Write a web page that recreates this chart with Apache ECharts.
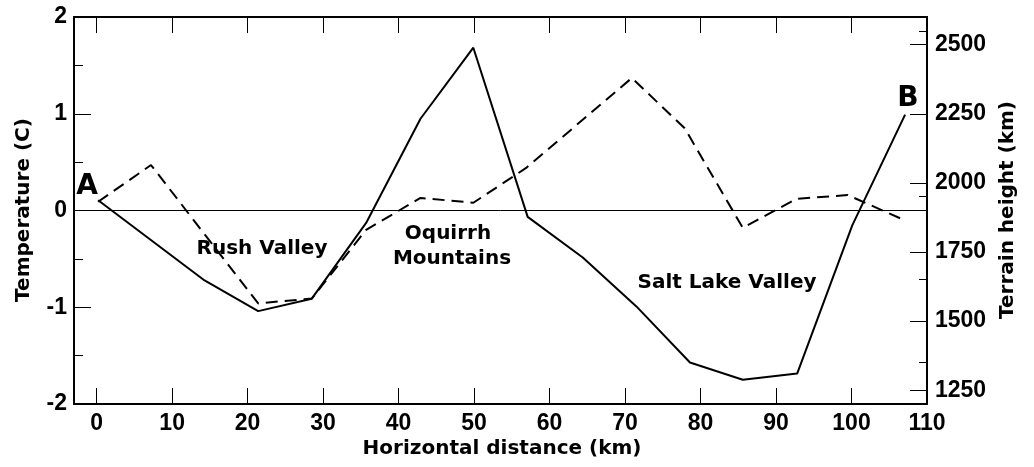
<!DOCTYPE html>
<html>
<head>
<meta charset="utf-8">
<script src="https://cdn.jsdelivr.net/npm/echarts@6/dist/echarts.min.js"></script>
<style>
  html, body { margin: 0; padding: 0; background: #fff; }
  #chart { width: 1034px; height: 467px; }
</style>
</head>
<body>
<div id="chart"></div>
<script>
// terrain profile (solid, right axis)
var terrainKm = [0.2, 14.3, 21.4, 28.5, 35.7, 42.9, 49.9, 57.1, 64.4, 71.5, 78.6, 85.6, 92.8, 100.1, 107.1];
var terrainM  = [1937, 1647, 1536, 1581, 1855, 2232, 2489, 1877, 1730, 1553, 1350, 1288, 1310, 1846, 2247];

// temperature anomaly (dashed, left axis)
var tempKm = [0.2, 7.2, 21.4, 28.5, 35.7, 42.9, 49.9, 56.9, 70.9, 77.9, 85.6, 92.7, 99.5, 107.0];
var tempC  = [0.09, 0.47, -0.96, -0.91, -0.2, 0.13, 0.08, 0.44, 1.37, 0.85, -0.18, 0.12, 0.16, -0.1];

// ticks
var xTicks = [0, 10, 20, 30, 40, 50, 60, 70, 80, 90, 100, 110];
var heightTicks = [1250, 1500, 1750, 2000, 2250, 2500];

var pairs = (xs, ys) => xs.map((x, i) => [x, ys[i]]);

var tickFont = () => ({ fontFamily: 'Liberation Sans, Arial', fontWeight: 'bold', fontSize: 23, color: '#000' });
var frame = () => ({ show: true, onZero: false, lineStyle: { color: '#000', width: 2 } });
var tick = (len, vals) => {
    var t = { show: true, inside: true, length: len, lineStyle: { color: '#000', width: 1 } };
    if (vals) t.customValues = vals;
    return t;
};
var minor = (len) => ({ show: true, splitNumber: 2, length: len, lineStyle: { color: '#000', width: 1 } });
var lbl = (txt, x, y, size, rot) => ({
    type: 'text', x: x, y: y, z: 10, rotation: rot || 0,
    style: { text: txt, font: 'bold ' + (size || 20) + 'px "DejaVu Sans"', fill: '#000', align: 'center', verticalAlign: 'middle' }
});

var chart = echarts.init(document.getElementById('chart'));
chart.setOption({
    animation: false,
    grid: { left: 74, right: 107, top: 17, bottom: 63 },
    xAxis: [{
        type: 'value', min: -3, max: 110, position: 'bottom',
        axisLine: frame(),
        axisTick: tick(16, xTicks),
        axisLabel: Object.assign({ margin: 8, customValues: xTicks }, tickFont()),
        splitLine: { show: false }
    }, {
        type: 'value', min: -3, max: 110, position: 'top',
        axisLine: frame(),
        axisTick: tick(16, xTicks),
        axisLabel: { show: false },
        splitLine: { show: false }
    }],
    yAxis: [{
        type: 'value', min: -2, max: 2, interval: 1, position: 'left',
        axisLine: frame(),
        axisTick: tick(17),
        minorTick: minor(9),
        axisLabel: Object.assign({ margin: 7 }, tickFont()),
        splitLine: { show: false }
    }, {
        type: 'value', min: 1200, max: 2600, position: 'right',
        axisLine: frame(),
        axisTick: tick(17, heightTicks),
        minorTick: minor(8),
        axisLabel: Object.assign({ margin: 8, customValues: heightTicks, formatter: v => String(v) }, tickFont()),
        splitLine: { show: false }
    }],
    series: [{
        name: 'Temperature', type: 'line', xAxisIndex: 0, yAxisIndex: 0,
        data: pairs(tempKm, tempC),
        symbol: 'none',
        lineStyle: { color: '#000', width: 2, type: [12, 7] },
        markLine: {
            silent: true, symbol: ['none', 'none'],
            label: { show: false },
            lineStyle: { color: '#000', width: 1, type: 'solid' },
            data: [{ yAxis: 0 }]
        }
    }, {
        name: 'Terrain', type: 'line', xAxisIndex: 0, yAxisIndex: 1,
        data: pairs(terrainKm, terrainM),
        symbol: 'none',
        lineStyle: { color: '#000', width: 2 }
    }],
    graphic: [
        lbl('Horizontal distance (km)', 502, 449),
        lbl('Temperature (C)', 24, 210, 20, Math.PI / 2),
        lbl('Terrain height (km)', 1008, 210, 20, Math.PI / 2),
        lbl('A', 87, 187, 28),
        lbl('B', 908, 99, 28),
        lbl('Rush Valley', 262, 249),
        lbl('Oquirrh', 448, 234),
        lbl('Mountains', 452, 259),
        lbl('Salt Lake Valley', 727, 283)
    ]
});
</script>
</body>
</html>
